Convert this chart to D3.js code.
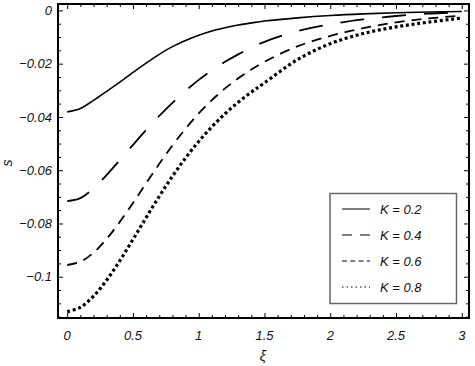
<!DOCTYPE html>
<html><head><meta charset="utf-8">
<script src="https://cdn.jsdelivr.net/npm/d3@7"></script>
<style>body{margin:0;background:#fff}svg{display:block}text{font-family:"Liberation Sans",Arial,sans-serif;font-style:italic;fill:#111}</style>
</head><body>
<script>
const xi = [0,0.1,0.2,0.3,0.4,0.5,0.6,0.7,0.8,0.9,1.0,1.1,1.2,1.3,1.4,1.5,1.75,2.0,2.25,2.5,2.75,3.0];
const sK02 = [-0.0381,-0.0368,-0.0338,-0.0304,-0.0269,-0.0233,-0.0198,-0.0165,-0.0136,-0.0113,-0.0093,-0.0077,-0.0065,-0.0055,-0.0047,-0.0040,-0.0028,-0.0019,-0.0013,-0.0009,-0.0006,-0.0004];
const sK04 = [-0.0716,-0.0705,-0.0668,-0.0618,-0.0562,-0.0505,-0.0449,-0.0396,-0.0347,-0.0302,-0.0261,-0.0225,-0.0193,-0.0165,-0.0140,-0.0118,-0.0078,-0.0052,-0.0034,-0.0021,-0.0012,-0.0007];
const sK06 = [-0.0956,-0.0944,-0.0910,-0.0858,-0.0794,-0.0723,-0.0649,-0.0576,-0.0507,-0.0444,-0.0387,-0.0337,-0.0293,-0.0255,-0.0222,-0.0193,-0.0135,-0.0096,-0.0067,-0.0045,-0.0030,-0.0020];
const sK08 = [-0.1131,-0.1115,-0.1073,-0.1013,-0.0940,-0.0860,-0.0778,-0.0698,-0.0623,-0.0554,-0.0492,-0.0437,-0.0388,-0.0345,-0.0307,-0.0272,-0.0185,-0.0125,-0.0087,-0.0062,-0.0044,-0.0029];
const seriesNames = ["K = 0.2","K = 0.4","K = 0.6","K = 0.8"];
const xTicks = [0,0.5,1,1.5,2,2.5,3];
const xTickLabels = ["0","0.5","1","1.5","2","2.5","3"];
const yTicks = [0,-0.02,-0.04,-0.06,-0.08,-0.1];
const yTickLabels = ["0","\u22120.02","\u22120.04","\u22120.06","\u22120.08","\u22120.1"];

const W=475,H=366, L=58,R=469,T=4,B=318;
const svg=d3.select("body").append("svg").attr("width",W).attr("height",H);
const x=d3.scaleLinear().domain([-0.07,3.055]).range([L,R]);
const y=d3.scaleLinear().domain([-0.1155,0.0024]).range([B,T]);

const styles=[
 {w:1.6,dash:null,lw:1.5,ldash:null},
 {w:1.8,dash:"24,18",lw:1.5,ldash:"10,8"},
 {w:1.8,dash:"10,7",lw:1.3,ldash:"5,3.3"},
 {w:3.2,dash:"3,2.7",lw:1.3,ldash:"1.5,3"}
];
const allS=[sK02,sK04,sK06,sK08];
const line=d3.line().x(d=>x(d[0])).y(d=>y(d[1])).curve(d3.curveCatmullRom.alpha(0.5));
svg.append("clipPath").attr("id","c").append("rect").attr("x",L).attr("y",T).attr("width",R-L).attr("height",B-T);
const g=svg.append("g").attr("clip-path","url(#c)");
allS.forEach((s,i)=>{
  g.append("path").datum(xi.map((v,j)=>[v,s[j]])).attr("d",line)
   .attr("fill","none").attr("stroke","#000").attr("stroke-width",styles[i].w)
   .attr("stroke-dasharray",styles[i].dash);
});

const minorX=d3.range(0,3.0001,0.1).filter(v=>Math.abs(v*2-Math.round(v*2))>1e-6);
const minorY=d3.range(0,-0.1151,-0.005).filter(v=>Math.abs(v*50-Math.round(v*50))>1e-6);
function tickAxis(axisFn,scale,vals,size,tr){
  const a=axisFn(scale).tickValues(vals).tickSize(size).tickFormat("");
  const gg=svg.append("g").attr("transform",tr).call(a);
  gg.select(".domain").remove();
  gg.selectAll("line").attr("stroke","#000").attr("stroke-width",1);
  return gg;
}
tickAxis(d3.axisTop,x,xTicks,5,`translate(0,${B})`);
tickAxis(d3.axisTop,x,minorX,3,`translate(0,${B})`);
tickAxis(d3.axisBottom,x,xTicks,5,`translate(0,${T})`);
tickAxis(d3.axisBottom,x,minorX,3,`translate(0,${T})`);
tickAxis(d3.axisRight,y,yTicks,5,`translate(${L},0)`);
tickAxis(d3.axisRight,y,minorY,3,`translate(${L},0)`);
tickAxis(d3.axisLeft,y,yTicks,5,`translate(${R},0)`);
tickAxis(d3.axisLeft,y,minorY,3,`translate(${R},0)`);

svg.append("rect").attr("x",L).attr("y",T).attr("width",R-L).attr("height",B-T)
  .attr("fill","none").attr("stroke","#000").attr("stroke-width",2);

svg.selectAll(".xl").data(xTicks).enter().append("text")
  .attr("x",d=>x(d)).attr("y",340).attr("text-anchor","middle").attr("font-size",13)
  .text((d,i)=>xTickLabels[i]);
svg.selectAll(".yl").data(yTicks).enter().append("text")
  .attr("x",52).attr("y",d=>y(d)).attr("dy","0.36em").attr("text-anchor","end").attr("font-size",13)
  .text((d,i)=>yTickLabels[i]);

svg.append("text").attr("x",263).attr("y",361).attr("text-anchor","middle").attr("font-size",14).text("\u03BE");
svg.append("text").attr("transform","translate(12,163) rotate(-90)").attr("text-anchor","middle").attr("font-size",14).text("s");

const lg=svg.append("g");
lg.append("rect").attr("x",330).attr("y",193.5).attr("width",126.5).attr("height",110)
  .attr("fill","#fff").attr("stroke","#666").attr("stroke-width",1.5);
const rowY=d3.scalePoint().domain(seriesNames).range([209,287]);
seriesNames.forEach((n,i)=>{
  lg.append("line").attr("x1",342).attr("x2",370).attr("y1",rowY(n)).attr("y2",rowY(n))
    .attr("stroke","#555").attr("stroke-width",styles[i].lw).attr("stroke-dasharray",styles[i].ldash);
  lg.append("text").attr("x",380).attr("y",rowY(n)).attr("dy","0.36em").attr("font-size",13).text(n);
});
</script>
</body></html>
